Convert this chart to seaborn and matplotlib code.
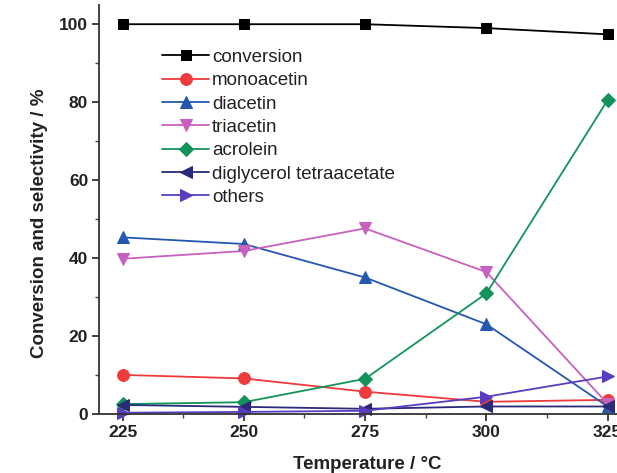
import matplotlib
matplotlib.use("Agg")
import matplotlib.pyplot as plt
import seaborn as sns
import pandas as pd
from matplotlib.ticker import MultipleLocator

temperature = [225, 250, 275, 300, 325]
conversion = [100, 100, 100, 99.0, 97.4]
monoacetin = [10.0, 9.1, 5.7, 3.1, 3.6]
diacetin = [45.3, 43.6, 35.0, 23.0, 1.9]
triacetin = [39.8, 41.8, 47.6, 36.4, 2.6]
acrolein = [2.5, 3.0, 9.0, 30.9, 80.5]
diglycerol = [2.3, 1.8, 1.3, 1.9, 1.9]
others = [0.3, 0.5, 0.8, 4.4, 9.6]

series = {
    "conversion": conversion,
    "monoacetin": monoacetin,
    "diacetin": diacetin,
    "triacetin": triacetin,
    "acrolein": acrolein,
    "diglycerol tetraacetate": diglycerol,
    "others": others,
}
colors = {
    "conversion": "#000000",
    "monoacetin": "#ee3a3a",
    "diacetin": "#2458b0",
    "triacetin": "#c860c0",
    "acrolein": "#13935a",
    "diglycerol tetraacetate": "#2a2a78",
    "others": "#5a3cc0",
}
markers = {
    "conversion": "s",
    "monoacetin": "o",
    "diacetin": "^",
    "triacetin": "v",
    "acrolein": "D",
    "diglycerol tetraacetate": "<",
    "others": ">",
}
msizes = {"conversion": 7.5, "monoacetin": 8.5, "diacetin": 8.5, "triacetin": 8.5,
          "acrolein": 7, "diglycerol tetraacetate": 8.5, "others": 8.5}

df = pd.DataFrame(
    [(t, name, v) for name, vals in series.items() for t, v in zip(temperature, vals)],
    columns=["Temperature", "series", "value"],
)

sns.set_style("white")
plt.rcParams["font.family"] = ["Liberation Sans", "DejaVu Sans"]

fig = plt.figure(figsize=(6.17, 4.73), dpi=100)
ax = fig.add_axes([0.161, 0.125, 0.863, 0.865])

for name in series:
    sub = df[df["series"] == name]
    sns.lineplot(data=sub, x="Temperature", y="value", ax=ax, color=colors[name],
                 marker=markers[name], markersize=msizes[name],
                 markeredgecolor=colors[name], markerfacecolor=colors[name],
                 linewidth=1.3, label=name, clip_on=False)

ax.set_xlim(220.2, 330)
ax.set_ylim(0, 105)
ax.set_xticks(temperature)
ax.set_yticks([0, 20, 40, 60, 80, 100])
ax.xaxis.set_minor_locator(MultipleLocator(12.5))
ax.yaxis.set_minor_locator(MultipleLocator(10))
ax.tick_params(axis="both", which="major", direction="out", length=5, width=1.2,
               pad=3, labelsize=12.5, colors="#222222", left=True, bottom=True)
ax.tick_params(axis="both", which="minor", direction="out", length=3, width=1.0,
               left=True, bottom=True, color="#444444")
for lbl in ax.get_xticklabels() + ax.get_yticklabels():
    lbl.set_fontweight("bold")

for s in ["top", "right"]:
    ax.spines[s].set_visible(False)
for s in ["left", "bottom"]:
    ax.spines[s].set_color("#333333")
    ax.spines[s].set_linewidth(1.3)

ax.set_xlabel("Temperature / °C", fontsize=13.5, fontweight="bold", color="#222222")
ax.set_ylabel("Conversion and selectivity / %", fontsize=13.5, fontweight="bold", color="#222222")
ax.xaxis.set_label_coords(0.504, -0.103)
ax.yaxis.set_label_coords(-0.097, 0.465)

leg = ax.legend(loc="upper left", bbox_to_anchor=(0.118, 0.892), frameon=False,
                fontsize=13.5, labelspacing=0.33, handlelength=2.5, handletextpad=0.15,
                borderaxespad=0, borderpad=0)
for t in leg.get_texts():
    t.set_color("#222222")

fig.savefig("out.png", dpi=100, facecolor="white")
